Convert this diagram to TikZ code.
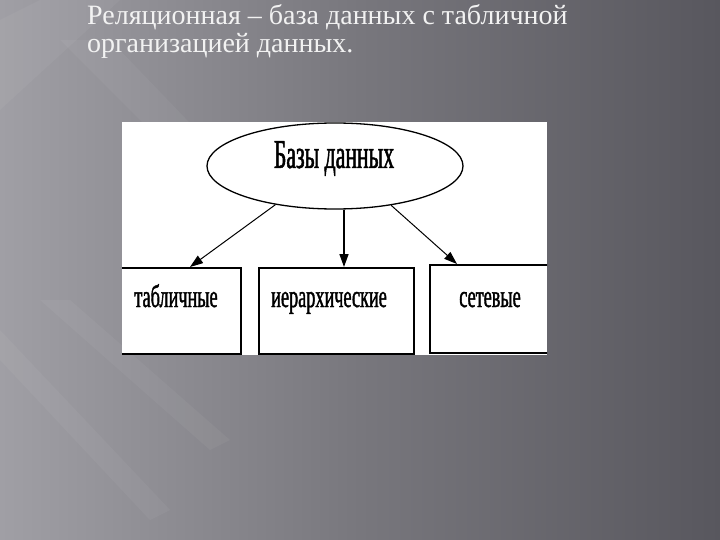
\documentclass[tikz,border=0pt]{standalone}
\usepackage{fontspec}
\setmainfont{Liberation Serif}
\newfontfamily\condfont[FakeStretch=0.53,FakeBold=1.2]{Liberation Serif}
\newfontfamily\condfontb[FakeStretch=0.57,FakeBold=1.2]{Liberation Serif}
\usetikzlibrary{shapes.geometric,arrows.meta,calc}
\definecolor{bgL}{HTML}{A09FA5}
\definecolor{bgM}{HTML}{78777D}
\definecolor{bgR}{HTML}{58575E}
\definecolor{titlecol}{HTML}{F2F2F2}
\tikzset{
  boxnode/.style={draw=black, line width=1.6pt, rectangle, anchor=north west, inner sep=0pt},
  boxlabel/.style={anchor=base, text=black, inner sep=0pt, font=\condfontb\fontsize{32}{32}\selectfont},
  arr/.style={draw=black, line width=1pt, -{Triangle[length=13pt,width=9pt]}},
  streak/.style={fill=white, opacity=0.045},
  titletext/.style={anchor=base west, text=titlecol, inner sep=0pt, font=\fontsize{28}{32}\selectfont}
}
\begin{document}
\begin{tikzpicture}[x=1pt,y=-1pt]
\useasboundingbox (0,0) rectangle (720,540);
% background
\shade[left color=bgL, right color=bgR, middle color=bgM] (0,0) rectangle (720,540);
\fill[streak] (0,20) -- (40,0) -- (120,0) -- (0,110) -- cycle;
\fill[streak] (60,40) -- (110,40) -- (360,300) -- (330,310) -- cycle;
\fill[streak] (0,330) -- (0,360) -- (150,520) -- (170,510) -- cycle;
\fill[streak] (40,300) -- (70,300) -- (230,440) -- (210,450) -- cycle;
% title
\node[titletext] (title1) at (87,25) {Реляционная – база данных с табличной};
\node[titletext] (title2) at (87,53) {организацией данных.};
% picture
\fill[white] (122,122) rectangle (547,355);
\begin{scope}
\clip (122,122) rectangle (547,355);
\node[ellipse, draw=black, line width=1.3pt, minimum width=256pt, minimum height=86pt, inner sep=0pt] (db) at (335,166) {};
\node[anchor=base, inner sep=0pt, font=\condfont\fontsize{41}{41}\selectfont] (dbtext) at (334,168) {Базы данных};
\node[boxnode, minimum width=122pt, minimum height=86pt] (b1) at (118,267) {};
\node[boxnode, minimum width=155pt, minimum height=86pt] (b2) at (258,267) {};
\node[boxnode, minimum width=122pt, minimum height=88pt] (b3) at (429,264) {};
\node[boxlabel] (t1) at (176,307) {табличные};
\node[boxlabel] (t2) at (329,307) {иерархические};
\node[boxlabel] (t3) at (490,307) {сетевые};
\coordinate (e1) at ($(b1.north west)+(72,0)$);
\coordinate (e2) at ($(b2.north west)+(86,0)$);
\coordinate (e3) at ($(b3.north west)+(28,0)$);
\draw[arr] (db.213) -- (e1);
\draw[arr, line width=1.5pt] (db.south -| e2) -- (e2);
\draw[arr] (db.-35) -- (e3);
\end{scope}
\end{tikzpicture}
\end{document}
